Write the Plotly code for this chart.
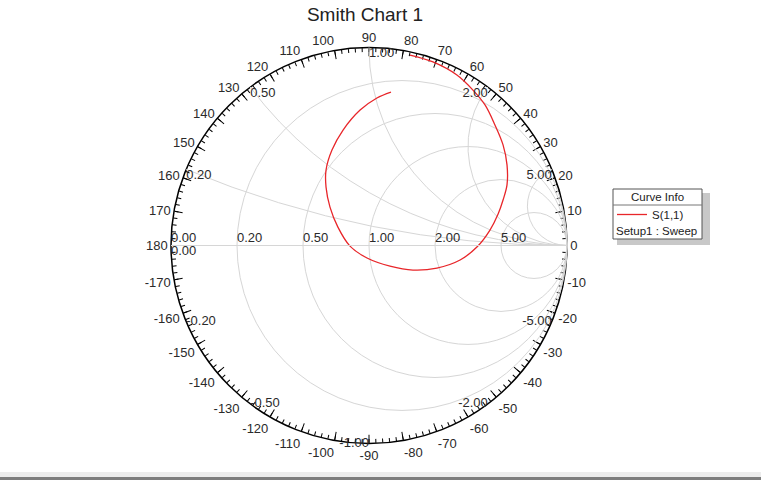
import numpy as np
import plotly.graph_objects as go

# ---------------- data ----------------
# S11 reflection coefficient (real, imag) along the sweep
s11_re = [0.207, 0.323, 0.444, 0.525, 0.586, 0.636, 0.677, 0.697, 0.697, 0.677,
          0.652, 0.611, 0.545, 0.460, 0.343, 0.222, 0.106, -0.010, -0.096, -0.157,
          -0.197, -0.217, -0.217, -0.187, -0.131, -0.045, 0.040, 0.111]
s11_im = [0.962, 0.927, 0.861, 0.785, 0.710, 0.609, 0.508, 0.407, 0.306, 0.230,
          0.159, 0.078, -0.008, -0.073, -0.114, -0.124, -0.104, -0.063, -0.003, 0.093,
          0.194, 0.295, 0.381, 0.482, 0.583, 0.684, 0.745, 0.775]

# Smith grid values
resistance_vals = [0.2, 0.5, 1.0, 2.0, 5.0]
reactance_vals = [0.2, 0.5, 1.0, 2.0, 5.0]
real_labels = ["0.00", "0.20", "0.50", "1.00", "2.00", "5.00"]
real_label_vals = [0.0, 0.2, 0.5, 1.0, 2.0, 5.0]
imag_label_vals = [0.0, 0.2, 0.5, 1.0, 2.0, 5.0, -0.2, -0.5, -1.0, -2.0, -5.0]
imag_labels = ["0.00", "0.20", "0.50", "1.00", "2.00", "5.00",
               "-0.20", "-0.50", "-1.00", "-2.00", "-5.00"]
imag_label_pos = ["bottom right", "bottom right", "bottom right", "bottom right",
                  "bottom left", "bottom left", "middle right", "middle right",
                  "middle left", "middle left", "middle left"]

# angle ticks (degrees)
major_angles = list(range(0, 360, 10))
major_angle_text = [str(a if a <= 180 else a - 360) for a in major_angles]
minor_angles = list(range(0, 360, 2))

# ---------------- figure ----------------
W, H = 761, 480
def px(x):
    return x / W
def py(y):
    return 1 - y / H

cx, cy, R = 369, 245.5, 198
dom_x = [px(cx - R), px(cx + R)]
dom_y = [py(cy + R), py(cy - R)]

gam = np.array(s11_re) + 1j * np.array(s11_im)
z = (1 + gam) / (1 - gam)

FONT = "Arial, Liberation Sans, sans-serif"
LBL = dict(family=FONT, size=13, color="#2a2a2a")

fig = go.Figure()

fig.add_trace(go.Scattersmith(
    real=z.real, imag=z.imag, mode="lines",
    line=dict(color="#e8262a", width=1.3, shape="spline"),
    name="S(1,1)", subplot="smith", showlegend=True))

fig.add_trace(go.Scattersmith(
    real=[v for v in real_label_vals], imag=[0] * len(real_label_vals),
    mode="text", text=real_labels, textposition="top right",
    textfont=LBL, subplot="smith", showlegend=False, hoverinfo="skip"))

fig.add_trace(go.Scattersmith(
    real=[0] * len(imag_label_vals), imag=imag_label_vals,
    mode="text", text=imag_labels, textposition=imag_label_pos,
    textfont=LBL, subplot="smith", showlegend=False, hoverinfo="skip"))

fig.add_trace(go.Scatterpolar(r=[], theta=[], subplot="polar", showlegend=False, hoverinfo="skip"))
fig.add_trace(go.Scatterpolar(r=[], theta=[], subplot="polar2", showlegend=False, hoverinfo="skip"))

grid_col = "#d6d6d6"
fig.update_layout(
    width=W, height=H,
    margin=dict(l=0, r=0, t=0, b=0),
    paper_bgcolor="white",
    font=dict(family=FONT, color="#333333"),
    title=dict(text="Smith Chart 1", x=px(365), xanchor="center",
               y=py(14), yanchor="middle",
               font=dict(family=FONT, size=19, color="#222222")),
    smith=dict(
        domain=dict(x=dom_x, y=dom_y),
        bgcolor="rgba(0,0,0,0)",
        realaxis=dict(tickvals=resistance_vals, showticklabels=False,
                      gridcolor=grid_col, gridwidth=1, showline=True,
                      linecolor=grid_col, linewidth=1, ticks=""),
        imaginaryaxis=dict(tickvals=reactance_vals, showticklabels=False,
                           gridcolor=grid_col, gridwidth=1, showline=False,
                           ticks=""),
    ),
    polar=dict(
        domain=dict(x=dom_x, y=dom_y),
        bgcolor="rgba(0,0,0,0)",
        radialaxis=dict(visible=False, range=[0, 1]),
        angularaxis=dict(rotation=0, direction="counterclockwise",
                         tickmode="array", tickvals=major_angles,
                         ticktext=major_angle_text, ticks="inside", ticklen=8,
                         tickwidth=1, tickcolor="black", showgrid=False,
                         showline=True, linecolor="black", linewidth=1.5,
                         tickfont=LBL),
    ),
    polar2=dict(
        domain=dict(x=dom_x, y=dom_y),
        bgcolor="rgba(0,0,0,0)",
        radialaxis=dict(visible=False, range=[0, 1]),
        angularaxis=dict(rotation=0, direction="counterclockwise",
                         tickmode="array", tickvals=minor_angles,
                         ticks="inside", ticklen=4, tickwidth=1,
                         tickcolor="black", showgrid=False,
                         showticklabels=False, showline=False),
    ),
    legend=dict(x=px(612), y=py(200), xanchor="left", yanchor="top",
                bgcolor="rgba(0,0,0,0)", borderwidth=0,
                font=dict(family=FONT, size=11.5, color="#222222"),
                itemwidth=30),
    showlegend=True,
)

shapes = [
    # legend shadow, box, separator
    dict(type="rect", xref="paper", yref="paper", x0=px(617), x1=px(710),
         y0=py(245), y1=py(193), fillcolor="#c8c8c8", line=dict(width=0), layer="below"),
    dict(type="rect", xref="paper", yref="paper", x0=px(613), x1=px(702),
         y0=py(239), y1=py(189), fillcolor="white", line=dict(color="#555555", width=1), layer="below"),
    dict(type="line", xref="paper", yref="paper", x0=px(613), x1=px(702),
         y0=py(205), y1=py(205), line=dict(color="#777777", width=1), layer="below"),
    # window bottom strip
    dict(type="rect", xref="paper", yref="paper", x0=0, x1=1,
         y0=py(477), y1=py(472), fillcolor="#ececec", line=dict(width=0), layer="below"),
    dict(type="rect", xref="paper", yref="paper", x0=0, x1=1,
         y0=0, y1=py(477), fillcolor="#7d7d7d", line=dict(width=0), layer="below"),
]
fig.update_layout(shapes=shapes)

fig.add_annotation(x=px(657), y=py(197), xref="paper", yref="paper",
                   text="Curve Info", showarrow=False, xanchor="center", yanchor="middle",
                   font=dict(family=FONT, size=11.5, color="#222222"))
fig.add_annotation(x=px(614), y=py(230.5), xref="paper", yref="paper",
                   text="Setup1 : Sweep", showarrow=False, xanchor="left", yanchor="middle",
                   font=dict(family=FONT, size=11.5, color="#222222"))

fig.write_html("out.html")
